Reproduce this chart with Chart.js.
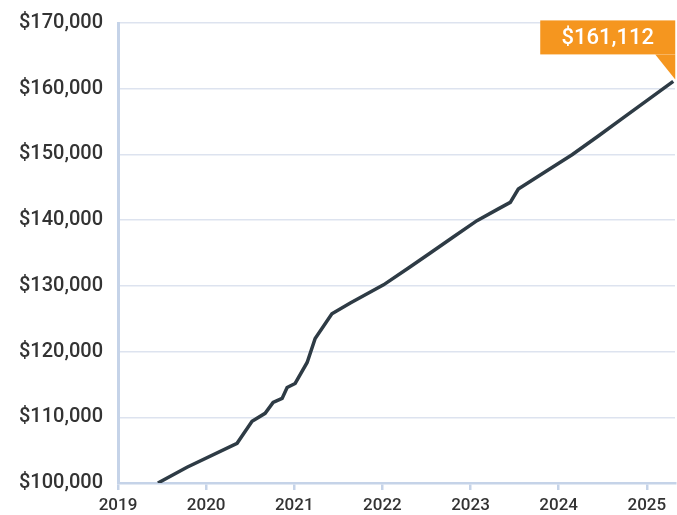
<!DOCTYPE html>
<html>
<head>
<meta charset="utf-8">
<script src="https://cdn.jsdelivr.net/npm/chart.js@4.4.1/dist/chart.umd.min.js"></script>
<style>
  html, body { margin: 0; padding: 0; background: #fff; }
  .plot-container { width: 677px; height: 515px; position: relative; }
</style>
</head>
<body>
<div class="plot-container"><canvas id="myChart"></canvas></div>
<script>
// value of the account over time (decimal year -> dollars)
const years = [2019.453, 2019.783, 2020.351, 2020.521, 2020.669, 2020.76, 2020.862, 2020.919,
               2021.01, 2021.146, 2021.237, 2021.427, 2021.636, 2022.013, 2022.30, 2022.543,
               2022.80, 2023.073, 2023.30, 2023.451, 2023.542, 2023.849, 2024.152, 2024.45,
               2024.70, 2025.00, 2025.30];
const values = [100000, 102390, 106040, 109380, 110600, 112260, 112870, 114540,
                115150, 118340, 121990, 125740, 127400, 130150, 132750, 135000,
                137400, 139920, 141600, 142700, 144740, 147370, 149950, 152800,
                155270, 158200, 161112];
const yTicks = [100000, 110000, 120000, 130000, 140000, 150000, 160000, 170000];
const xTicks = [2019, 2020, 2021, 2022, 2023, 2024, 2025];

const FONT = "Roboto, 'Open Sans', sans-serif";
const money = v => '$' + Math.round(v).toLocaleString('en-US');

// orange callout pinned to the last point
const callout = {
  id: 'callout',
  afterDatasetsDraw(chart) {
    const { ctx, scales } = chart;
    const n = values.length - 1;
    const px = scales.x.getPixelForValue(years[n]);
    const py = scales.y.getPixelForValue(values[n]);
    const right = px + 2, w = 135, top = py - 61, bottom = py - 27;
    ctx.save();
    ctx.fillStyle = '#f5961f';
    ctx.fillRect(right - w, top, w, bottom - top);
    ctx.beginPath();
    ctx.moveTo(right - 20, bottom);
    ctx.lineTo(right, bottom);
    ctx.lineTo(right, py - 2);
    ctx.closePath();
    ctx.fill();
    ctx.fillStyle = '#fff';
    ctx.font = '500 22px ' + FONT;
    ctx.textAlign = 'center';
    ctx.textBaseline = 'middle';
    ctx.fillText(money(values[n]), right - w / 2, (top + bottom) / 2 + 1);
    ctx.restore();
  }
};

new Chart(document.getElementById('myChart'), {
  type: 'line',
  data: {
    datasets: [{
      data: years.map((x, i) => ({ x: x, y: values[i] })),
      borderColor: '#2e3b45',
      borderWidth: 3.5,
      pointRadius: 0,
      tension: 0,
      fill: false
    }]
  },
  options: {
    responsive: true,
    maintainAspectRatio: false,
    animation: false,
    layout: { padding: { top: 23, right: 2, left: 0, bottom: 0 } },
    plugins: { legend: { display: false }, tooltip: { enabled: false } },
    scales: {
      x: {
        type: 'linear',
        min: 2019,
        max: 2025.32,
        afterBuildTicks: s => { s.ticks = xTicks.map(v => ({ value: v })); },
        ticks: {
          includeBounds: false,
          color: '#333',
          font: { family: FONT, size: 17, weight: 500 },
          padding: 6,
          maxRotation: 0,
          callback: v => String(v)
        },
        grid: { drawOnChartArea: false, color: '#c5d3e8', lineWidth: 2.5, tickLength: 7 },
        border: { color: '#c5d3e8', width: 2.5 },
        afterFit: s => { s.height = 32; }
      },
      y: {
        min: 100000,
        max: 170000,
        afterBuildTicks: s => { s.ticks = yTicks.map(v => ({ value: v })); },
        ticks: {
          color: '#333',
          font: { family: FONT, size: 20, weight: 500 },
          padding: 15,
          callback: v => money(v)
        },
        grid: { color: '#dde3ef', lineWidth: 1.5, drawTicks: false },
        border: { color: '#c5d3e8', width: 3 },
        // keep the plot top where the reference has it, not pushed down by label height
        afterFit: s => { s.width = 118; s.paddingTop = 0; s.paddingBottom = 0; }
      }
    }
  },
  plugins: [callout]
});
</script>
</body>
</html>
